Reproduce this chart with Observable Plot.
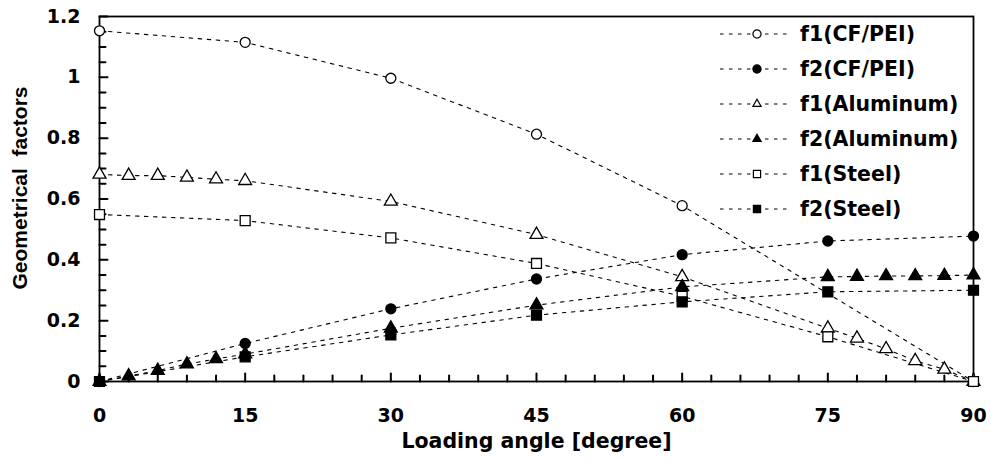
<!DOCTYPE html>
<html><head><meta charset="utf-8">
<script src="https://cdn.jsdelivr.net/npm/d3@7"></script>
<script src="https://cdn.jsdelivr.net/npm/@observablehq/plot@0.6"></script>
<style>
html,body{margin:0;padding:0;background:#fff;overflow:hidden;}
#wrap{position:relative;width:991px;height:462px;}
svg text{white-space:pre;}
#legend{position:absolute;left:718px;top:16px;font-family:"DejaVu Sans";font-weight:bold;font-size:20.5px;color:#000;}
.row{display:flex;align-items:center;height:35px;}
.row svg{display:block;margin-right:2px;}
</style>
</head><body><div id="wrap"></div>
<script>
// ---- data ----
const seriesNames = ["f1(CF/PEI)", "f2(CF/PEI)", "f1(Aluminum)", "f2(Aluminum)", "f1(Steel)", "f2(Steel)"];

const f1CFAngles = [0, 15, 30, 45, 60, 90];
const f1CF       = [1.153, 1.115, 0.997, 0.813, 0.578, 0];
const f2CFAngles = [0, 15, 30, 45, 60, 75, 90];
const f2CF       = [0, 0.125, 0.239, 0.337, 0.417, 0.462, 0.478];

const alAngles = [0, 3, 6, 9, 12, 15, 30, 45, 60, 75, 78, 81, 84, 87, 90];
const f1Al     = [0.681, 0.677, 0.677, 0.671, 0.665, 0.660, 0.592, 0.483, 0.344, 0.175, 0.142, 0.107, 0.068, 0.040, 0];
const f2Al     = [0, 0.018, 0.036, 0.057, 0.074, 0.090, 0.175, 0.251, 0.311, 0.344, 0.345, 0.347, 0.347, 0.348, 0.350];

const stAngles = [0, 15, 30, 45, 60, 75, 90];
const f1St     = [0.549, 0.529, 0.472, 0.388, 0.280, 0.147, 0];
const f2St     = [0, 0.081, 0.153, 0.218, 0.262, 0.295, 0.300];

const xMajorTicks = [0, 15, 30, 45, 60, 75, 90];
const xMinorTicks = [3, 6, 9, 12, 18, 21, 24, 27, 33, 36, 39, 42, 48, 51, 54, 57, 63, 66, 69, 72, 78, 81, 84, 87];
const yMajorTicks = [0, 0.2, 0.4, 0.6, 0.8, 1, 1.2];
const yMinorTicks = [0.05, 0.1, 0.15, 0.25, 0.3, 0.35, 0.45, 0.5, 0.55, 0.65, 0.7, 0.75, 0.85, 0.9, 0.95, 1.05, 1.1, 1.15];

const xLabel = "Loading angle [degree]";
const yLabel = "Geometrical  factors";

// ---- table ----
const seriesData = [
  [f1CFAngles, f1CF], [f2CFAngles, f2CF],
  [alAngles, f1Al], [alAngles, f2Al],
  [stAngles, f1St], [stAngles, f2St]
];
const rows = [];
seriesData.forEach(([xs, ys], i) => xs.forEach((a, j) => rows.push({series: seriesNames[i], angle: a, value: ys[j]})));

// ---- styles (per series) ----
const styles = {
  "f1(CF/PEI)":   {symbol: "circle",   fill: "white", r: 5},
  "f2(CF/PEI)":   {symbol: "circle",   fill: "black", r: 5},
  "f1(Aluminum)": {symbol: "triangle", fill: "white", r: 4.8},
  "f2(Aluminum)": {symbol: "triangle", fill: "black", r: 4.8},
  "f1(Steel)":    {symbol: "square",   fill: "white", r: 5.6},
  "f2(Steel)":    {symbol: "square",   fill: "black", r: 5.6}
};
const dash = "3.5,5.5";

const lineMarks = seriesNames.map(s => Plot.line(rows.filter(d => d.series === s), {
  x: "angle", y: "value", stroke: "black", strokeWidth: 1.1, strokeDasharray: dash
}));
const dotMarks = seriesNames.map(s => Plot.dot(rows.filter(d => d.series === s), {
  x: "angle", y: "value", symbol: styles[s].symbol, r: styles[s].r,
  fill: styles[s].fill, stroke: "black", strokeWidth: 1.3
}));

// inward ticks drawn as short vectors from the bottom / left frame edges
const tickShape = {draw(context, l) { context.moveTo(0, 0); context.lineTo(0, -l); }};
const xTicks = (ticks, len) => Plot.vector(ticks, {x: d => d, frameAnchor: "bottom", rotate: 0, anchor: "start", length: len, shape: tickShape, stroke: "black", strokeWidth: 2});
const yTicks = (ticks, len) => Plot.vector(ticks, {y: d => d, frameAnchor: "left", rotate: 90, anchor: "start", length: len, shape: tickShape, stroke: "black", strokeWidth: 2});

const chart = Plot.plot({
  width: 991, height: 462,
  marginLeft: 99, marginRight: 18, marginTop: 16, marginBottom: 81,
  x: {domain: [0, 90]},
  y: {domain: [0, 1.2]},
  style: {fontFamily: "DejaVu Sans", fontWeight: "bold", fontSize: "19px", color: "black", background: "white", overflow: "visible"},
  marks: [
    ...lineMarks,
    xTicks(xMinorTicks, 6),
    xTicks(xMajorTicks, 8),
    yTicks(yMinorTicks, 6),
    yTicks(yMajorTicks, 8),
    Plot.axisX(xMajorTicks, {tickSize: 0, tickPadding: 27, tickFormat: d => String(d), label: null, fontSize: 19}),
    Plot.axisX([], {tickSize: 0, label: xLabel, labelAnchor: "center", labelArrow: "none", labelOffset: 66, fontSize: 20.5}),
    Plot.axisY(yMajorTicks, {tickSize: 0, tickPadding: 19, tickFormat: d => String(d), label: null, fontSize: 19}),
    Plot.text([yLabel], {frameAnchor: "left", rotate: -90, textAnchor: "middle", lineAnchor: "top", dx: -87, dy: -11,
      fontSize: 21, fontFamily: "Liberation Sans", fontWeight: "bold", fill: "black"}),
    Plot.frame({stroke: "black", strokeWidth: 1.8}),
    ...dotMarks
  ]
});

const wrap = document.getElementById("wrap");
wrap.appendChild(chart);

// ---- legend ----
const symMap = {circle: d3.symbolCircle, triangle: d3.symbolTriangle2, square: d3.symbolSquare2};
const legend = document.createElement("div");
legend.id = "legend";
seriesNames.forEach(s => {
  const row = document.createElement("div");
  row.className = "row";
  const st = styles[s];
  const size = Math.PI * (st.r * 0.82) ** 2;
  const path = d3.symbol(symMap[st.symbol], size)();
  row.innerHTML = `<svg width="80" height="20" viewBox="0 0 80 20">
    <line x1="2" y1="10" x2="74" y2="10" stroke="black" stroke-width="1.1" stroke-dasharray="${dash}"/>
    <path d="${path}" transform="translate(39,10)" fill="${st.fill}" stroke="black" stroke-width="1.2"/>
  </svg><span>${s}</span>`;
  legend.appendChild(row);
});
wrap.appendChild(legend);
</script>
</body></html>
